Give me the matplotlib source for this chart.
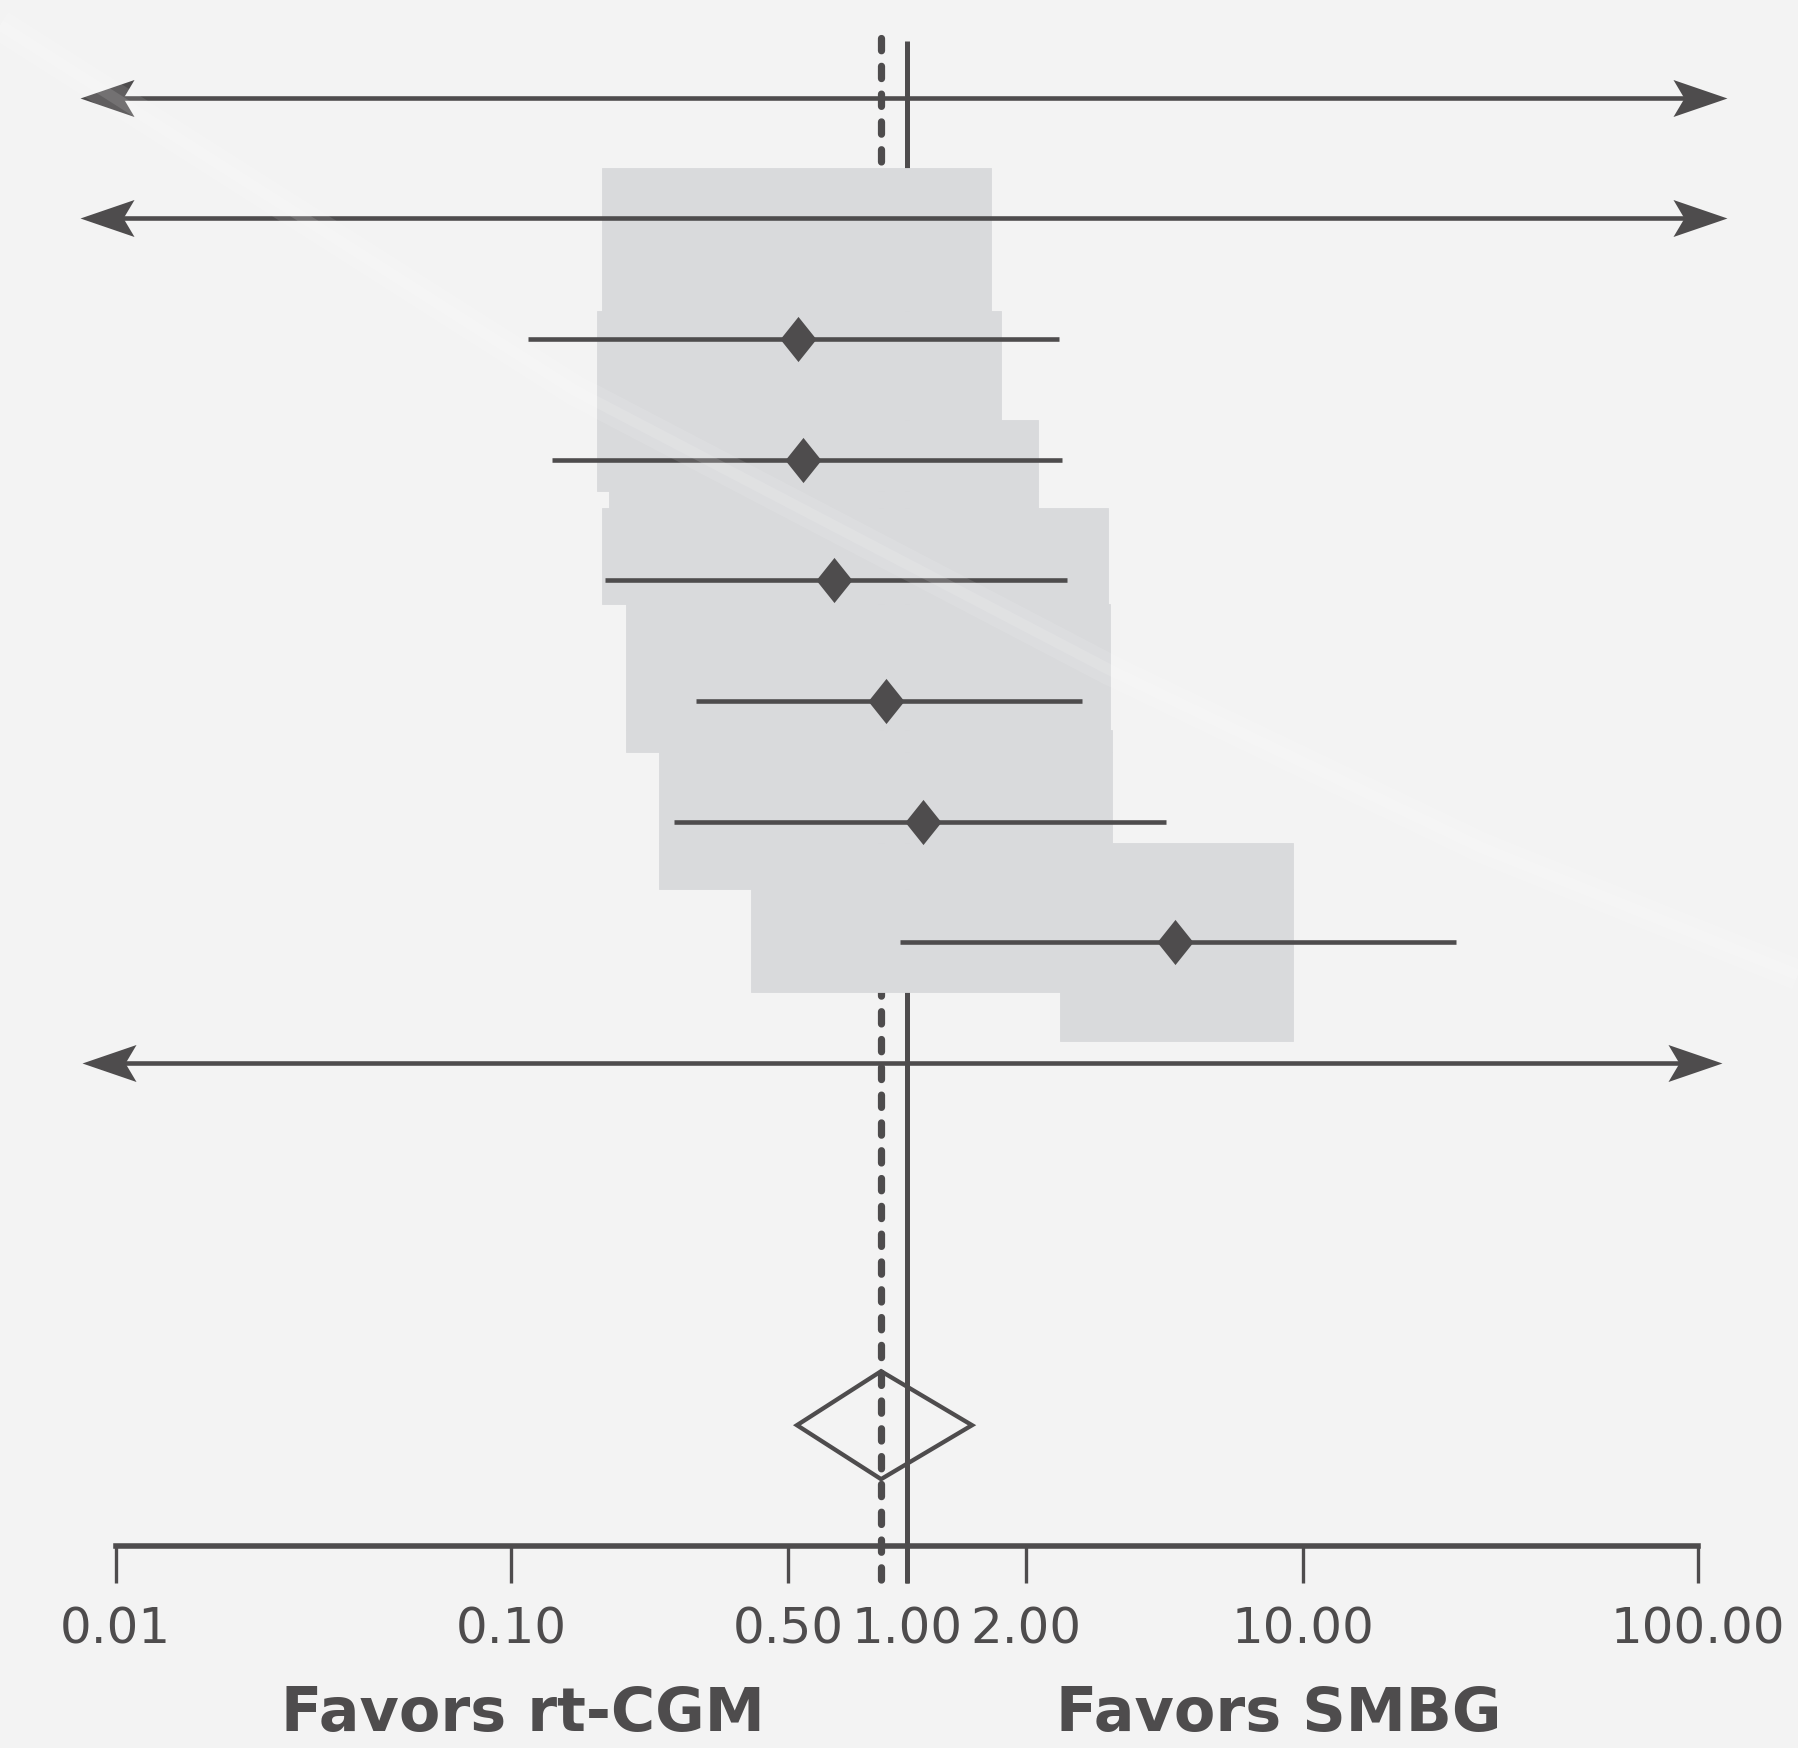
import numpy as np
import matplotlib
matplotlib.use("Agg")
import matplotlib.pyplot as plt
from matplotlib.path import Path
from matplotlib.ticker import FixedLocator, NullLocator

# odds ratio and 95% CI per study, top to bottom
study_or = [np.nan, np.nan, 0.53, 0.546, 0.654, 0.885, 1.10, 4.76, np.nan]
study_lo = [0.0081, 0.0081, 0.110, 0.127, 0.172, 0.293, 0.258, 0.960, 0.0082]
study_hi = [118.0, 118.0, 2.42, 2.47, 2.54, 2.77, 4.52, 24.4, 115.0]
# intervals that run off the scale on both sides
study_open = [True, True, False, False, False, False, False, False, True]

pooled_or = 0.86
pooled_lo = 0.527
pooled_hi = 1.46

# grey band behind the studies: row edges, left and right limits per step
band_edges = [0.58, 1.77, 2.67, 3.26, 3.40, 4.20, 5.24, 5.42, 6.18, 6.56, 7.41, 7.82]
band_lo = [0.169, 0.165, 0.165, 0.177, 0.169, 0.195, 0.195, 0.236, 0.236, 0.403, 2.44]
band_hi = [1.63, 1.73, 2.14, 2.14, 3.22, 3.26, 3.30, 3.30, 9.46, 9.46, 9.46]

tick_vals = [0.01, 0.1, 0.5, 1, 2, 10, 100]
tick_labels = ["0.01", "0.10", "0.50", "1.00", "2.00", "10.00", "100.00"]
side_labels = ["Favors rt-CGM", "Favors SMBG"]
side_x = [0.1067, 8.71]

dark = "#4e4c4d"
band_col = "#d9dadc"
bg = "#f3f3f3"

W, H, DPI = 1798, 1748, 100
DEC = 395.6  # px per decade
fig = plt.figure(figsize=(W / DPI, H / DPI), dpi=DPI, facecolor=bg)
ax = fig.add_axes([0, 0, 1, 1])
ax.set_facecolor("none")

# x: 1.0 sits at px 907; y: rows 120.7 px apart
ax.set_xscale("log")
ax.set_xlim(10 ** (-907 / DEC), 10 ** ((W - 907) / DEC))
ax.set_ylim((H - 97.5) / 120.7, -97.5 / 120.7)

# faint gloss streak across the background
sx = np.array([0, 574, 1110, 1480, 1798]) / W
sy = 1 - np.array([25, 390, 670, 847, 975]) / H
fig.add_artist(plt.Line2D(sx, sy, transform=fig.transFigure, color="white",
                          lw=22, alpha=0.10, zorder=2.5, solid_capstyle="butt"))
fig.add_artist(plt.Line2D(sx, sy, transform=fig.transFigure, color="white",
                          lw=8, alpha=0.12, zorder=2.5, solid_capstyle="butt"))

# reference lines: no effect and pooled estimate
ax.plot([1, 1], [-0.47, 12.31], color=dark, lw=3.6, zorder=1,
        solid_capstyle="butt")
ax.plot([pooled_or, pooled_or], [-0.495, 12.33], color=dark, lw=5.2,
        ls=(0, (1.7, 2.15)), dash_capstyle="round", zorder=1)

# grey band
for i in range(len(band_lo)):
    ax.fill_betweenx([band_edges[i], band_edges[i + 1]], band_lo[i], band_hi[i],
                     color=band_col, lw=0.6, edgecolor=band_col, zorder=2)

diamond = Path([(0, 1), (0.8, 0), (0, -1), (-0.8, 0), (0, 1)],
               [Path.MOVETO, Path.LINETO, Path.LINETO, Path.LINETO, Path.CLOSEPOLY])
head_l = Path([(0, 0), (54, 18.5), (43, 0), (54, -18.5), (0, 0)],
              [Path.MOVETO, Path.LINETO, Path.LINETO, Path.LINETO, Path.CLOSEPOLY])
head_r = Path([(0, 0), (-54, 18.5), (-43, 0), (-54, -18.5), (0, 0)],
              [Path.MOVETO, Path.LINETO, Path.LINETO, Path.LINETO, Path.CLOSEPOLY])

for row in range(len(study_or)):
    lo, hi = study_lo[row], study_hi[row]
    if study_open[row]:
        # stop the shaft inside the arrow heads so it can't poke past the tips
        shift = 10 ** (30 / DEC)
        ax.plot([lo * shift, hi / shift], [row, row], color=dark, lw=3.3,
                zorder=3, solid_capstyle="butt")
        ax.plot(lo, row, marker=head_l, ms=77.8, color=dark, mew=0, zorder=4)
        ax.plot(hi, row, marker=head_r, ms=77.8, color=dark, mew=0, zorder=4)
    else:
        ax.plot([lo, hi], [row, row], color=dark, lw=3.3, zorder=3,
                solid_capstyle="butt")
    if not np.isnan(study_or[row]):
        ax.plot(study_or[row], row, marker=diamond, ms=32.5, color=dark,
                mew=0, zorder=4)

# pooled estimate
py, ph = 11, 0.447
ax.fill([pooled_lo, pooled_or, pooled_hi, pooled_or],
        [py, py - ph, py, py + ph], facecolor="none", edgecolor=dark,
        lw=3.1, joinstyle="miter", zorder=4)

# log axis at the bottom
for s in ["left", "right", "top"]:
    ax.spines[s].set_visible(False)
ax.spines["bottom"].set_position(("data", 12))
ax.spines["bottom"].set_bounds(tick_vals[0], tick_vals[-1])
ax.spines["bottom"].set_linewidth(4.0)
ax.spines["bottom"].set_color(dark)
ax.xaxis.set_major_locator(FixedLocator(tick_vals))
ax.xaxis.set_minor_locator(NullLocator())
ax.set_xticklabels(tick_labels)
ax.tick_params(axis="x", direction="out", length=26.6, width=2.4, color=dark,
               labelsize=36, labelcolor=dark, pad=16)
ax.set_yticks([])

for lab, x in zip(side_labels, side_x):
    ax.text(x, 13.53, lab, ha="center", va="baseline", fontsize=43.5,
            fontweight="bold", color=dark)

fig.savefig("out.png", dpi=DPI, facecolor=bg)
